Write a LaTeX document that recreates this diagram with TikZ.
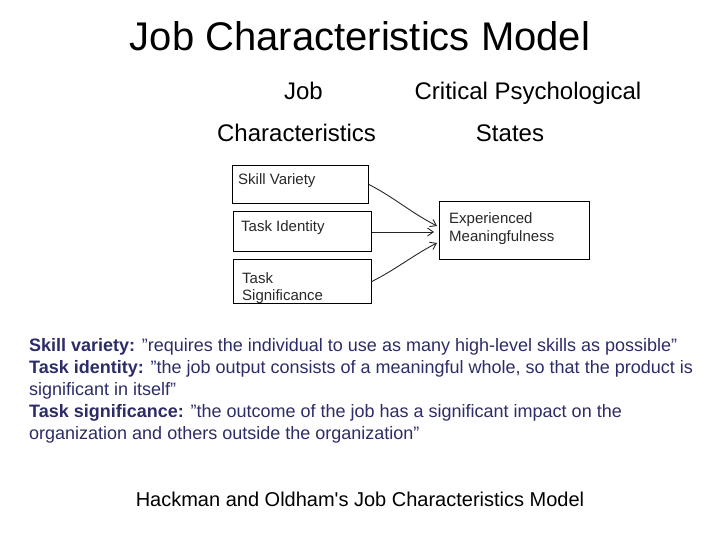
\documentclass[tikz,border=0pt]{standalone}
\usepackage{fontspec}
\setmainfont{Liberation Sans}
\usetikzlibrary{arrows.meta}
\definecolor{navy}{RGB}{44,44,104}
\definecolor{boxtext}{RGB}{40,40,40}
\tikzset{
  box/.style={draw=black, line width=0.9pt, rectangle, anchor=north west, inner sep=0pt},
  boxlabel/.style={anchor=base west, inner sep=0pt, font=\fontsize{15}{17}\selectfont, text=boxtext},
  head/.style={anchor=base, inner sep=0pt, font=\fontsize{24}{28}\selectfont},
  desc/.style={anchor=base west, inner sep=0pt, font=\fontsize{18}{22}\selectfont, text=navy},
  link/.style={draw=black!85, line width=0.9pt, -{Straight Barb[angle=70:7pt]}}
}
\begin{document}
\begin{tikzpicture}[x=1pt,y=-1pt]
\useasboundingbox (0,0) rectangle (720,540);
% title
\node[anchor=base, inner sep=0pt, font=\fontsize{40}{46}\selectfont] (title) at (360,51) {Job Characteristics Model};
% headings
\node[head] (h1) at (303.5,100) {Job};
\node[head] (h2) at (528,100) {Critical Psychological};
\node[head] (h3) at (296.5,142) {Characteristics};
\node[head] (h4) at (510,142) {States};
% boxes
\node[box, minimum width=136pt, minimum height=38pt] (sv) at (232,165) {};
\node[box, minimum width=138pt, minimum height=40pt] (ti) at (233,211) {};
\node[box, minimum width=138pt, minimum height=44pt] (ts) at (233,259) {};
\node[box, minimum width=150pt, minimum height=58pt] (em) at (439,201) {};
\node[boxlabel] (svl) at (238,185) {Skill Variety};
\node[boxlabel] (til) at (241,232) {Task Identity};
\node[boxlabel] (tsl1) at (242,283) {Task};
\node[boxlabel] (tsl2) at (242,300) {Significance};
\node[boxlabel] (eml1) at (449,223) {Experienced};
\node[boxlabel] (eml2) at (449,241) {Meaningfulness};
% connectors
\coordinate (e1) at (437,226);
\coordinate (e2) at (434,232);
\coordinate (e3) at (437,243);
\draw[link] (sv.east) .. controls (395,198) and (410,212) .. (e1);
\draw[link] (ti.east |- e2) -- (e2);
\draw[link] (ts.east) .. controls (395,270) and (415,254) .. (e3);
% description
\node[desc] (d1) at (29,351) {\textbf{Skill variety:} ”requires the individual to use as many high-level skills as possible”};
\node[desc] (d2) at (29,373) {\textbf{Task identity:} ”the job output consists of a meaningful whole, so that the product is};
\node[desc] (d3) at (29,395) {significant in itself”};
\node[desc] (d4) at (29,417) {\textbf{Task significance:} ”the outcome of the job has a significant impact on the};
\node[desc] (d5) at (29,439) {organization and others outside the organization”};
% caption
\node[anchor=base, inner sep=0pt, font=\fontsize{20}{24}\selectfont] (cap) at (360,506) {Hackman and Oldham\textquotesingle s Job Characteristics Model};
\end{tikzpicture}
\end{document}
